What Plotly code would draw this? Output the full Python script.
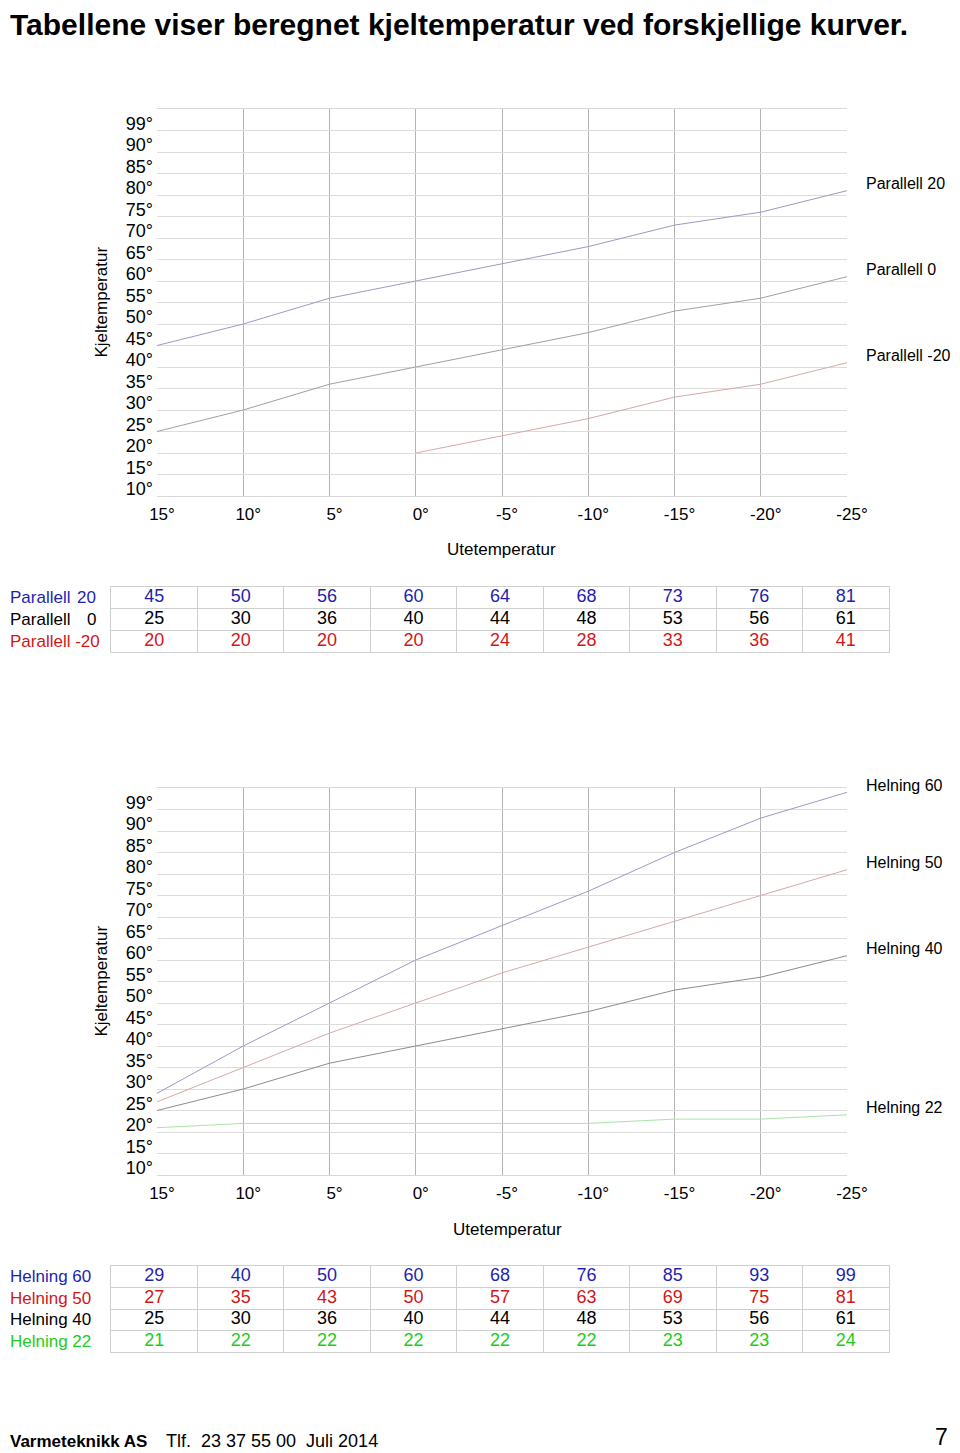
import plotly.graph_objects as go

# ---------------- data ----------------
temps = [15, 10, 5, 0, -5, -10, -15, -20, -25]
temp_labels = ["15°", "10°", "5°", "0°", "-5°", "-10°", "-15°", "-20°", "-25°"]
y_ticks = [10, 15, 20, 25, 30, 35, 40, 45, 50, 55, 60, 65, 70, 75, 80, 85, 90, 95]
y_ticklabels = ["10°", "15°", "20°", "25°", "30°", "35°", "40°", "45°", "50°",
                "55°", "60°", "65°", "70°", "75°", "80°", "85°", "90°", "99°"]

par_names = ["Parallell", "Parallell", "Parallell"]
par_nums = ["20", "0", "-20"]
parallell_20 = [45, 50, 56, 60, 64, 68, 73, 76, 81]
parallell_0 = [25, 30, 36, 40, 44, 48, 53, 56, 61]
parallell_m20 = [20, 20, 20, 20, 24, 28, 33, 36, 41]
par_plot_start = [0, 0, 3]   # Parallell -20 is only drawn from 0° in the chart

hel_names = ["Helning 60", "Helning 50", "Helning 40", "Helning 22"]
helning_60 = [29, 40, 50, 60, 68, 76, 85, 93, 99]
helning_50 = [27, 35, 43, 50, 57, 63, 69, 75, 81]
helning_40 = [25, 30, 36, 40, 44, 48, 53, 56, 61]
helning_22 = [21, 22, 22, 22, 22, 22, 23, 23, 24]

title_text = "Tabellene viser beregnet kjeltemperatur ved forskjellige kurver."
footer_bold = "Varmeteknikk AS"
footer_text = "Tlf.  23 37 55 00  Juli 2014"
page_no = "7"

# ---------------- styles ----------------
W, H = 960, 1453
OFF = 8  # the page places the figure 8 px in from the window's top-left corner
FONT = "Liberation Sans, Arial, sans-serif"
par_series = [parallell_20, parallell_0, parallell_m20]
par_line_colors = ["#9a9ac8", "#a0a0a0", "#d8a8a8"]
par_text_colors = ["#1f1fb0", "#000000", "#d01818"]
hel_series = [helning_60, helning_50, helning_40, helning_22]
hel_line_colors = ["#9a9ac8", "#d8a8a8", "#8c8c8c", "#a8e4a8"]
hel_text_colors = ["#1f1fb0", "#d01818", "#000000", "#22cc22"]


def py(px):
    return 1 - (px - OFF) / H


def px_x(px):
    return (px - OFF) / W


fig = go.Figure()

# ---------- charts ----------
for s, c, st in zip(par_series, par_line_colors, par_plot_start):
    fig.add_trace(go.Scatter(x=temps[st:], y=s[st:], mode="lines",
                             line=dict(color=c, width=1), xaxis="x", yaxis="y"))
for s, c in zip(hel_series, hel_line_colors):
    fig.add_trace(go.Scatter(x=temps, y=s, mode="lines",
                             line=dict(color=c, width=1), xaxis="x2", yaxis="y2"))

# ---------- tables ----------
for i, (s, c) in enumerate(zip(par_series, par_text_colors)):
    fig.add_trace(go.Scatter(x=temps, y=[i] * len(temps), mode="text",
                             text=[str(v) for v in s],
                             textfont=dict(family=FONT, size=18, color=c),
                             xaxis="x3", yaxis="y3"))
for i, (s, c) in enumerate(zip(hel_series, hel_text_colors)):
    fig.add_trace(go.Scatter(x=temps, y=[i] * len(temps), mode="text",
                             text=[str(v) for v in s],
                             textfont=dict(family=FONT, size=18, color=c),
                             xaxis="x4", yaxis="y4"))

chart_x = dict(range=[15, -25], tickmode="array", tickvals=temps, ticktext=temp_labels,
               showgrid=True, gridcolor="#b4b4b4", gridwidth=1, zeroline=False,
               showline=True, mirror=True, linecolor="#d8d8d8", linewidth=1,
               ticks="", tickfont=dict(family=FONT, size=17, color="#000"),
               ticklabelshift=-5, ticklabelstandoff=3, automargin=False)
chart_y = dict(range=[10, 100], tickmode="array", tickvals=y_ticks, ticktext=y_ticklabels,
               showgrid=True, gridcolor="#dcdcdc", gridwidth=1, zeroline=False,
               showline=False, ticks="", ticklabelshift=-7, ticklabelstandoff=3,
               tickfont=dict(family=FONT, size=18, color="#000"), automargin=False)

col_bounds = [(a + b) / 2 for a, b in zip(temps[:-1], temps[1:])]
table_x = dict(range=[temps[0] + 2.5, temps[-1] - 2.5], tickmode="array", tickvals=col_bounds,
               showticklabels=False, ticks="", showgrid=True, gridcolor="#cfcfcf",
               zeroline=False, showline=True, mirror=True, linecolor="#cfcfcf", automargin=False)


def table_y(n):
    return dict(range=[n - 0.5, -0.5], tickmode="array", tickvals=[k + 0.5 for k in range(n - 1)],
                showticklabels=False, ticks="", showgrid=True, gridcolor="#cfcfcf",
                zeroline=False, showline=True, mirror=True, linecolor="#cfcfcf", automargin=False)


fig.update_layout(
    width=W, height=H, autosize=False,
    margin=dict(l=0, r=0, t=0, b=0, pad=0, autoexpand=False),
    paper_bgcolor="white", plot_bgcolor="white",
    showlegend=False,
    xaxis=dict(domain=[px_x(157), px_x(847)], anchor="y", **chart_x),
    yaxis=dict(domain=[py(496), py(109)], anchor="x", **chart_y),
    xaxis2=dict(domain=[px_x(157), px_x(847)], anchor="y2", **chart_x),
    yaxis2=dict(domain=[py(1175), py(788)], anchor="x2", **chart_y),
    xaxis3=dict(domain=[px_x(111), px_x(889)], anchor="y3", **table_x),
    yaxis3=dict(domain=[py(652), py(587)], anchor="x3", **table_y(3)),
    xaxis4=dict(domain=[px_x(111), px_x(889)], anchor="y4", **table_x),
    yaxis4=dict(domain=[py(1352), py(1266)], anchor="x4", **table_y(4)),
)

ann = []
# title
ann.append(dict(text=f"<b>{title_text}</b>", xref="paper", yref="paper", x=0, y=1, yshift=2,
                xanchor="left", yanchor="top", showarrow=False,
                font=dict(family=FONT, size=30, color="#000")))
# axis titles
for ya, ytitle_px, xcenter in [("y", 549, 502), ("y2", 1229, 507)]:
    ann.append(dict(text="Kjeltemperatur", xref="paper", yref=f"{ya} domain", x=px_x(101), y=0.5,
                    textangle=-90, xanchor="center", yanchor="middle", showarrow=False,
                    font=dict(family=FONT, size=17, color="#000")))
    ann.append(dict(text="Utetemperatur", xref="paper", yref="paper", x=px_x(xcenter), y=py(ytitle_px),
                    xanchor="center", yanchor="middle", showarrow=False,
                    font=dict(family=FONT, size=17, color="#000")))
# right-side series labels
for name, num, s in zip(par_names, par_nums, par_series):
    ann.append(dict(text=f"{name} {num}", xref="paper", yref="y", x=px_x(864), y=s[-1], yshift=7,
                    xanchor="left", yanchor="middle", showarrow=False,
                    font=dict(family=FONT, size=16, color="#000")))
for name, s in zip(hel_names, hel_series):
    ann.append(dict(text=name, xref="paper", yref="y2", x=px_x(864), y=s[-1], yshift=7,
                    xanchor="left", yanchor="middle", showarrow=False,
                    font=dict(family=FONT, size=16, color="#000")))
# table row labels
for i, (name, num, c) in enumerate(zip(par_names, par_nums, par_text_colors)):
    if num.startswith("-"):
        ann.append(dict(text=f"{name} {num}", xref="paper", yref="y3", x=px_x(8), y=i,
                        xanchor="left", yanchor="middle", showarrow=False,
                        font=dict(family=FONT, size=17, color=c)))
    else:
        ann.append(dict(text=name, xref="paper", yref="y3", x=px_x(8), y=i,
                        xanchor="left", yanchor="middle", showarrow=False,
                        font=dict(family=FONT, size=17, color=c)))
        ann.append(dict(text=num, xref="paper", yref="y3", x=px_x(98), y=i,
                        xanchor="right", yanchor="middle", showarrow=False,
                        font=dict(family=FONT, size=17, color=c)))
for i, (name, c) in enumerate(zip(hel_names, hel_text_colors)):
    ann.append(dict(text=name, xref="paper", yref="y4", x=px_x(8), y=i,
                    xanchor="left", yanchor="middle", showarrow=False,
                    font=dict(family=FONT, size=17, color=c)))
# footer
ann.append(dict(text=f"<b>{footer_bold}</b>", xref="paper", yref="paper", x=0, y=py(1441),
                xanchor="left", yanchor="middle", showarrow=False,
                font=dict(family=FONT, size=17, color="#000")))
ann.append(dict(text=footer_text, xref="paper", yref="paper", x=px_x(164), y=py(1441),
                xanchor="left", yanchor="middle", showarrow=False,
                font=dict(family=FONT, size=18, color="#000")))
ann.append(dict(text=page_no, xref="paper", yref="paper", x=px_x(950), y=py(1452),
                xanchor="right", yanchor="bottom", showarrow=False,
                font=dict(family=FONT, size=23, color="#000")))

fig.update_layout(annotations=ann)
fig.write_html("out.html")
